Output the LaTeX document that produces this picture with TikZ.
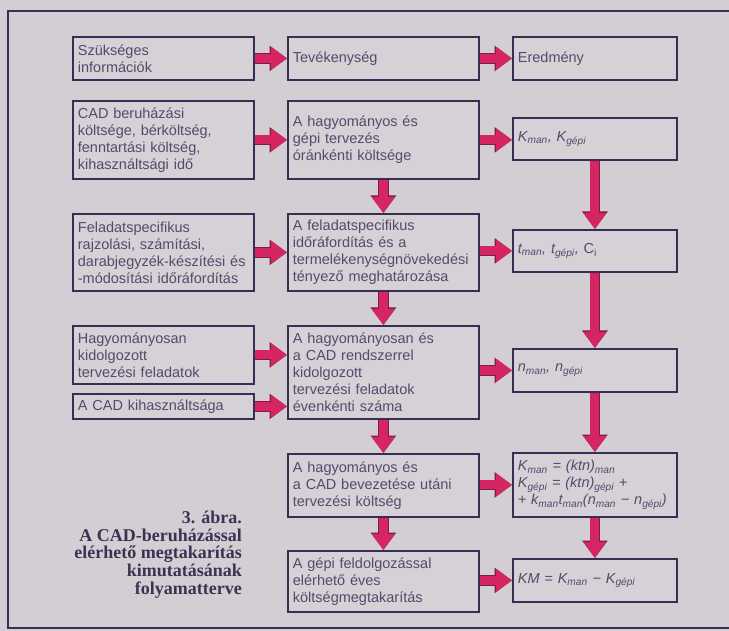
\documentclass[tikz,border=0pt]{standalone}
\usepackage{fontspec}
\setmainfont{Liberation Sans}
\newfontfamily\capfont{Liberation Serif}
\usetikzlibrary{arrows.meta,calc}
\definecolor{bgc}{RGB}{210,206,211}
\definecolor{boxc}{RGB}{213,209,214}
\definecolor{edgec}{RGB}{55,45,85}
\definecolor{txtc}{RGB}{85,74,108}
\definecolor{arrowc}{RGB}{214,38,98}
\definecolor{arrowedge}{RGB}{130,25,70}
\definecolor{capc}{RGB}{62,50,82}
\tikzset{
  box/.style={draw=edgec, fill=boxc, line width=1.8pt, anchor=north west,
    inner xsep=5pt, inner ysep=2pt, align=left, text=txtc,
    font=\fontsize{14.5}{17}\selectfont},
  c1/.style={box, minimum width=181pt, text width=171pt},
  c2/.style={box, minimum width=191pt, text width=181pt},
  c3/.style={box, minimum width=164pt, text width=154pt},
  flow/.style={line width=9pt, draw=arrowc, -{Triangle[length=16pt,width=22pt]},
    preaction={draw=arrowedge, line width=10.6pt, -{Triangle[length=17.5pt,width=24.5pt]}}},
  frame/.style={draw=edgec, line width=2.6pt},
}
\newcommand{\sbm}[1]{\textsubscript{#1}}
\begin{document}
\begin{tikzpicture}[x=1pt,y=-1pt]
\useasboundingbox (0,0) rectangle (729,631);
\fill[bgc] (0,0) rectangle (729,631);
\draw[frame] (729,11) -- (8,11) -- (8,628) -- (729,628);

% column 1
\node[c1, minimum height=43pt] (c1r1) at (72,36) {Szükséges\\információk};
\node[c1, minimum height=78pt] (c1r2) at (72,100) {CAD beruházási\\költsége, bérköltség,\\fenntartási költség,\\kihasználtsági idő};
\node[c1, minimum height=77pt] (c1r3) at (72,213) {Feladatspecifikus\\rajzolási, számítási,\\darabjegyzék-készítési és\\-módosítási időráfordítás};
\node[c1, minimum height=58pt] (c1r4) at (72,325) {Hagyományosan\\kidolgozott\\tervezési feladatok};
\node[c1, minimum height=25pt] (c1r4b) at (72,393) {A CAD kihasználtsága};

% column 2
\node[c2, minimum height=43pt] (c2r1) at (287,36) {Tevékenység};
\node[c2, minimum height=78pt] (c2r2) at (287,100) {A hagyományos és\\gépi tervezés\\óránkénti költsége};
\node[c2, minimum height=77pt] (c2r3) at (287,213) {A feladatspecifikus\\időráfordítás és a\\termelékenységnövekedési\\tényező meghatározása};
\node[c2, minimum height=93pt] (c2r4) at (287,325) {A hagyományosan és\\a CAD rendszerrel\\kidolgozott\\tervezési feladatok\\évenkénti száma};
\node[c2, minimum height=63pt] (c2r5) at (287,453) {A hagyományos és\\a CAD bevezetése utáni\\tervezési költség};
\node[c2, minimum height=61pt] (c2r6) at (287,550) {A gépi feldolgozással\\elérhető éves\\költségmegtakarítás};

% column 3
\node[c3, minimum height=43pt] (c3r1) at (512,36) {Eredmény};
\node[c3, minimum height=42pt] (c3r2) at (512,117) {\itshape K\sbm{man}, K\sbm{gépi}};
\node[c3, minimum height=42pt] (c3r3) at (512,229) {\itshape t\sbm{man}, t\sbm{gépi}, \upshape C\sbm{i}};
\node[c3, minimum height=43pt] (c3r4) at (512,348) {\itshape n\sbm{man}, n\sbm{gépi}};
\node[c3, minimum height=64pt] (c3r5) at (512,452) {\itshape K\sbm{man} = (ktn)\sbm{man}\\K\sbm{gépi} = (ktn)\sbm{gépi} +\\+ k\sbm{man}t\sbm{man}(n\sbm{man} − n\sbm{gépi})};
\node[c3, minimum height=43pt] (c3r6) at (512,558) {\itshape KM = K\sbm{man} − K\sbm{gépi}};

% caption
\node[anchor=north east, align=right, inner sep=0pt, text=capc,
  font=\capfont\bfseries\fontsize{18}{17.6}\selectfont] (cap) at (242,511)
  {3. ábra.\\A CAD-beruházással\\elérhető megtakarítás\\kimutatásának\\folyamatterve};

% horizontal arrows col1 -> col2
\draw[flow] (c1r1.east) -- (c2r1.west);
\draw[flow] (c1r2.east) -- (c2r2.west);
\draw[flow] (c1r3.east) -- (c2r3.west);
\draw[flow] (c1r4.east) -- (c1r4.east -| c2r4.west);
\draw[flow] (c1r4b.east) -- (c1r4b.east -| c2r4.west);
% horizontal arrows col2 -> col3
\draw[flow] (c2r1.east) -- (c3r1.west);
\draw[flow] (c2r2.east) -- (c2r2.east -| c3r2.west);
\draw[flow] (c3r3.west -| c2r3.east) -- (c3r3.west);
\draw[flow] (c3r4.west -| c2r4.east) -- (c3r4.west);
\draw[flow] (c3r5.west -| c2r5.east) -- (c3r5.west);
\draw[flow] (c3r6.west -| c2r6.east) -- (c3r6.west);
% vertical arrows col2
\draw[flow] (c2r2.south) -- (c2r3.north);
\draw[flow] (c2r3.south) -- (c2r4.north);
\draw[flow] (c2r4.south) -- (c2r5.north);
\draw[flow] (c2r5.south) -- (c2r6.north);
% vertical arrows col3
\draw[flow] (c3r2.south) -- (c3r3.north);
\draw[flow] (c3r3.south) -- (c3r4.north);
\draw[flow] (c3r4.south) -- (c3r5.north);
\draw[flow] (c3r5.south) -- (c3r6.north);
\end{tikzpicture}
\end{document}
